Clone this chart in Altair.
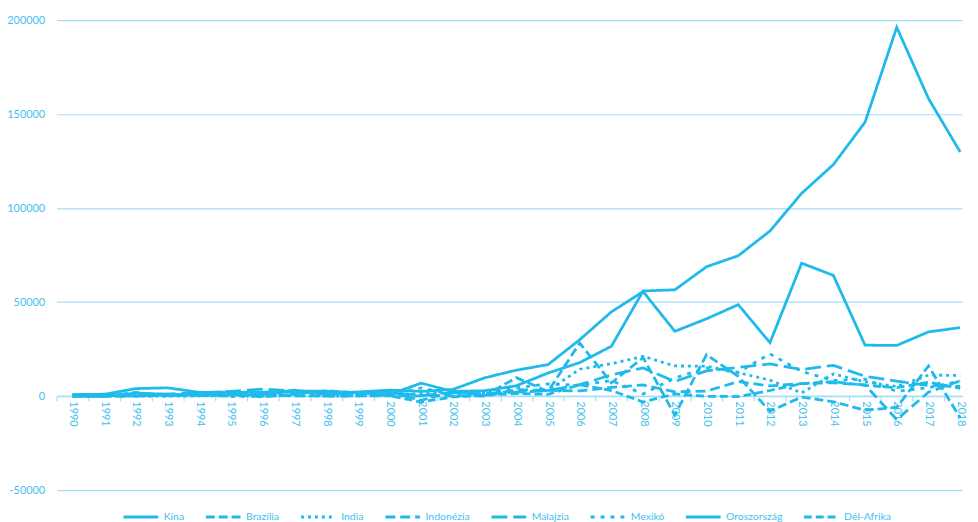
import altair as alt
import pandas as pd

years = list(range(1990, 2019))
series_names = ["Kína", "Brazília", "India", "Indonézia", "Malajzia", "Mexikó", "Oroszország", "Dél-Afrika"]

kina = [830, 913, 4000, 4400, 2000, 2000, 2114, 2562, 2634, 1775, 916, 6885, 2518, 2855, 5498, 12261,
        17830, 26510, 55910, 56530, 68810, 74650, 87800, 107840, 123120, 145670, 196150, 158290, 129830]
brazilia = [625, 1014, 137, 491, 1037, 1096, -469, 1116, 2854, 1690, 2282, -2258, 2482, 249, 9807, 2517,
            28202, 7067, 20457, -10084, 22060, 10500, -8000, -500, -3000, -7500, -6000, 16000, -11500]
india = [6, -11, 24, 0, 82, 119, 240, 113, 48, 79, 509, 1397, 1678, 1876, 2175, 2985,
         14285, 17234, 21147, 16031, 15947, 12456, 8486, 1679, 11783, 7572, 5072, 11141, 11037]
indonezia = [0, 13, 52, 356, 609, 603, 600, 178, 44, 72, 150, 125, 182, 15, 3408, 3065,
             2726, 4675, 5900, 2249, 2664, 7713, 5422, 6647, 7077, 5937, -12463, 2077, 8121]
malajzia = [129, 175, 206, 1067, 1817, 2488, 3768, 2675, 863, 1422, 2026, 267, 1905, 1369, 2061, 2971,
            6084, 11314, 14965, 7784, 13399, 15249, 17115, 14107, 16369, 10546, 7972, 5601, 5165]
mexiko = [224, 167, 730, 0, 1058, -263, 38, 1108, 1363, 1475, 363, 4404, 891, 1253, 4432, 6474,
          5758, 8256, 1157, 9604, 15050, 12636, 22470, 13138, 8304, 9000, 2500, 4500, 8000]
oroszorszag = [0, 0, 1566, 1022, 281, 606, 923, 3184, 1270, 2208, 3177, 2533, 3533, 9727, 13782, 16747,
               29993, 44801, 55594, 34450, 41116, 48635, 28423, 70685, 64203, 27090, 26951, 34153, 36445]
delafrika = [27, -14, 1981, 200, 1300, 2500, 1000, 2300, 1800, 1600, 277, -3180, -402, 565, 1352, 930,
             6063, 2966, -3134, 1151, -76, -257, 2988, 6649, 7669, 5743, 4474, 7374, 4148]

y_ticks = [-50000, 0, 50000, 100000, 150000, 200000]
dash_patterns = [[1, 0], [9, 4], [3, 4], [10, 5], [16, 6], [4, 6], [1, 0], [8, 4]]

all_series = [kina, brazilia, india, indonezia, malajzia, mexiko, oroszorszag, delafrika]
rows = []
for name, vals in zip(series_names, all_series):
    for yr, v in zip(years, vals):
        rows.append({"Év": yr, "Ország": name, "Érték": v})
df = pd.DataFrame(rows)

LINE = "#1FBAEA"
GRID = "#A3DEF6"
TEXT = "#45C0EE"
FONT = "Lato"

x_scale = alt.Scale(domain=[1989.5, 2018.06], nice=False, zero=False)
y_scale = alt.Scale(domain=[-50000, 200000], nice=False)
y_axis = alt.Axis(values=y_ticks, labelExpr="'' + datum.value", ticks=False, domain=False, grid=True,
                  gridColor=GRID, gridWidth=1.2, labelColor=TEXT, labelFontSize=11,
                  labelPadding=12, title=None)

base = alt.Chart(df)

lines = base.mark_line(strokeWidth=2.8, color=LINE, clip=False).encode(
    x=alt.X("Év:Q", scale=x_scale,
            axis=alt.Axis(values=years, format="d", labelAngle=90, offset=-95, grid=False,
                          ticks=False, domain=True, domainColor=GRID, domainWidth=1.5,
                          labelColor=TEXT, labelFontSize=11, labelPadding=5, title=None,
                          orient="bottom", labelOverlap=False)),
    y=alt.Y("Érték:Q", scale=y_scale, axis=y_axis),
    strokeDash=alt.StrokeDash(
        "Ország:N",
        scale=alt.Scale(domain=series_names, range=dash_patterns),
        sort=series_names,
        legend=alt.Legend(title=None, orient="none", legendX=66, legendY=482,
                          direction="horizontal", columns=8, symbolType="stroke",
                          symbolSize=1225, symbolStrokeWidth=3, symbolStrokeColor=LINE,
                          labelColor=TEXT, labelFontSize=10.5, labelFont=FONT,
                          columnPadding=15, labelOffset=4, padding=0),
    ),
)

tick_vals = [y + 0.5 for y in [1989] + years]
ticks_layer = base.mark_line(opacity=0).encode(
    x=alt.X("Év:Q", scale=x_scale,
            axis=alt.Axis(values=tick_vals, labels=False, domain=False, grid=False, ticks=True,
                          tickSize=5, tickColor=GRID, tickWidth=1.2, offset=-95, title=None,
                          orient="bottom")),
    y=alt.Y("Érték:Q", scale=y_scale, axis=y_axis),
    detail="Ország:N",
)

chart = alt.layer(lines, ticks_layer).resolve_axis(x="independent", y="shared").properties(
    width=913, height=474,
    autosize=alt.AutoSizeParams(type="none"),
    padding={"left": 49, "top": 10, "right": 8, "bottom": 30},
).configure(font=FONT, view=alt.ViewConfig(stroke=None))

chart.save("out.html", embed_options={"renderer": "svg", "actions": False})
